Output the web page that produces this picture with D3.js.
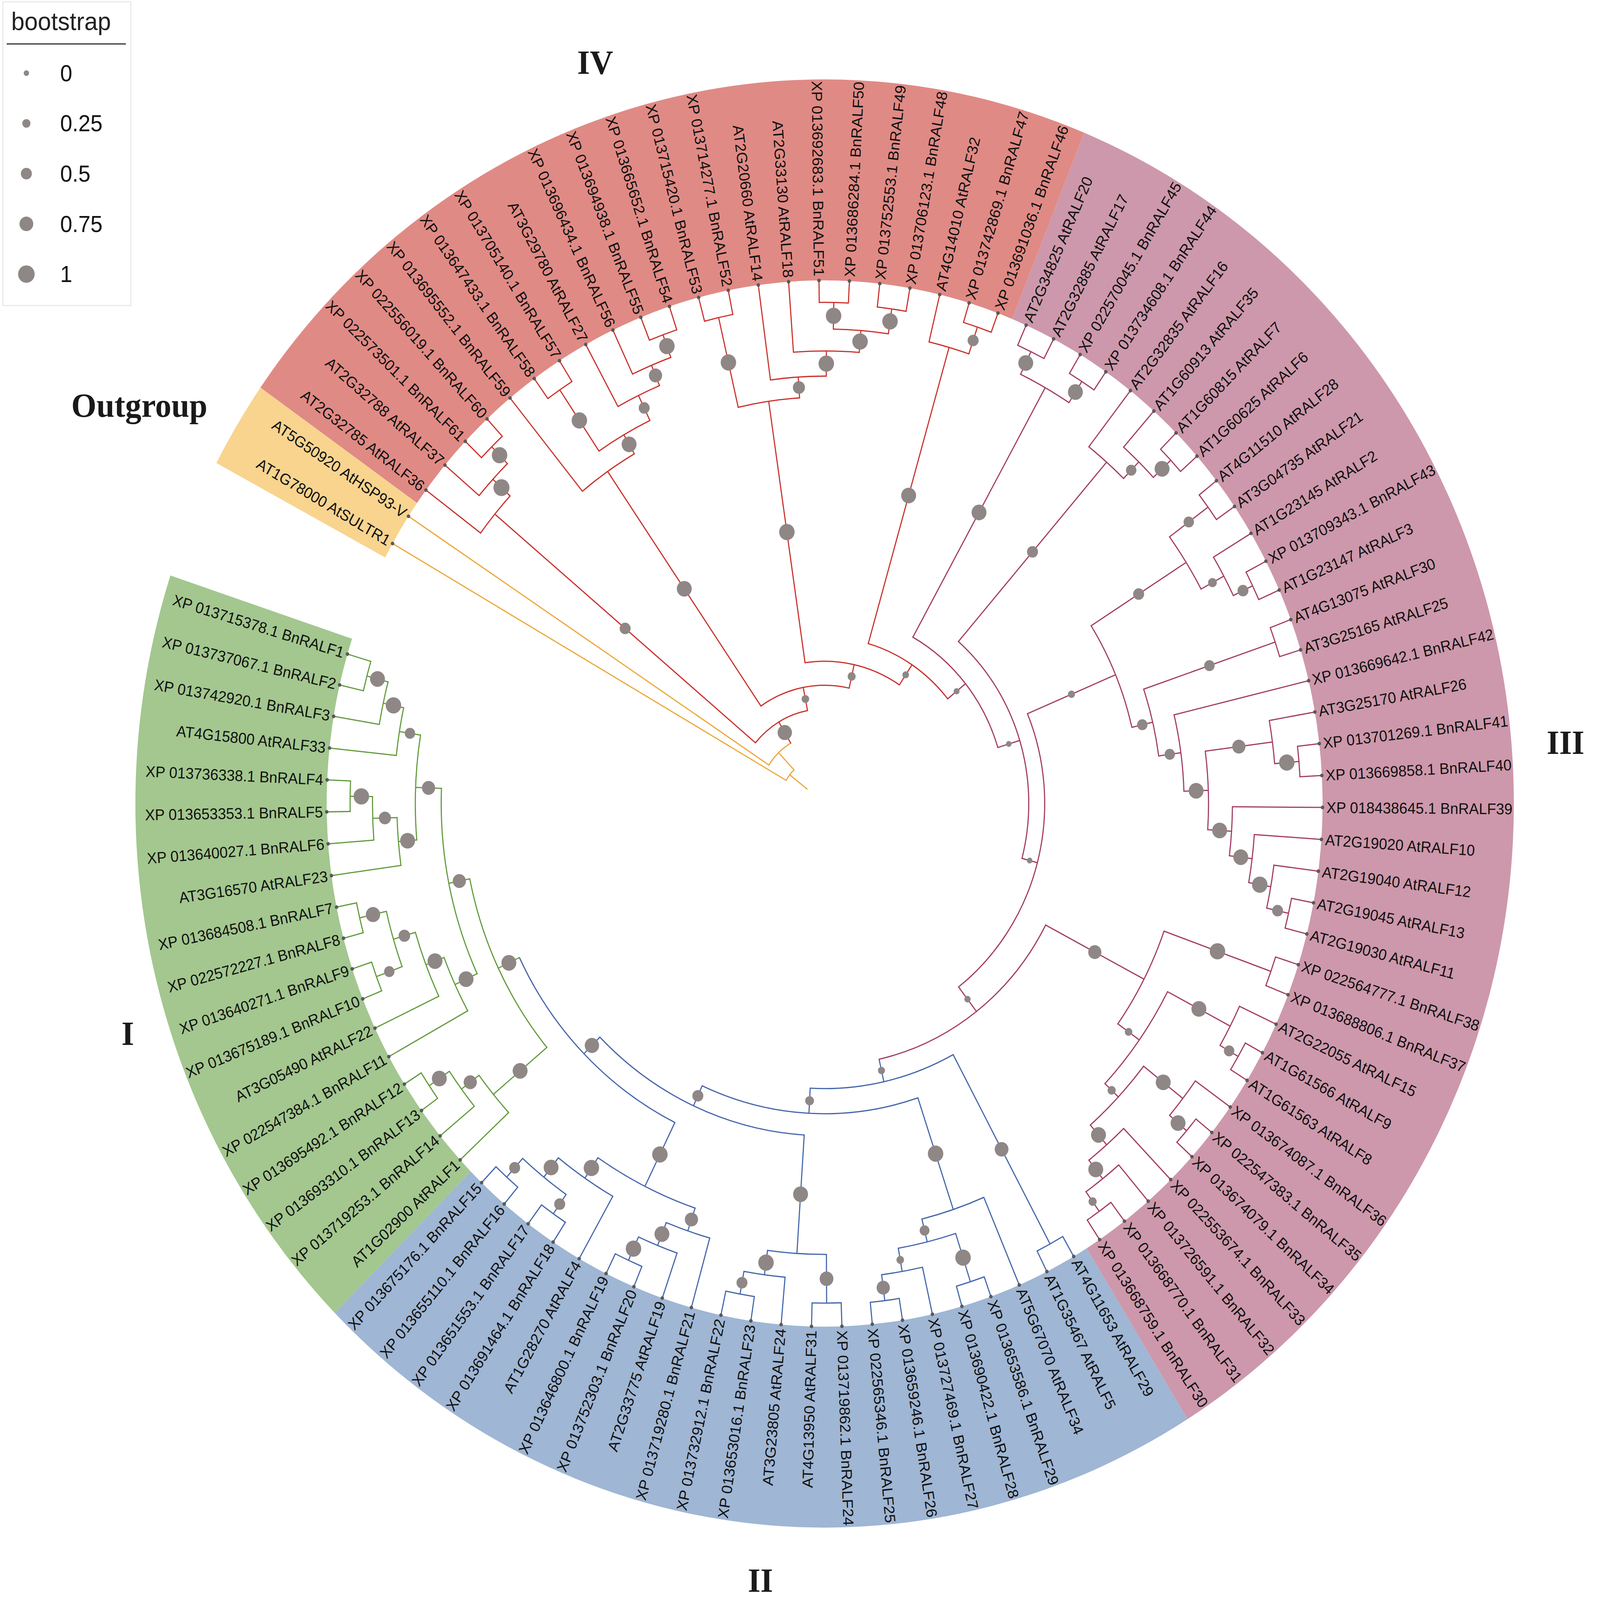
<!DOCTYPE html>
<html>
<head>
<meta charset="utf-8">
<title>RALF family tree</title>
<script src="https://d3js.org/d3.v7.min.js"></script>
<style>
  html, body { margin: 0; padding: 0; background: #fff; overflow: hidden; }
  #chart { display: block; width: 100vw; height: 100vh; }
  text { font-family: "Liberation Sans", Arial, sans-serif; }
</style>
</head>
<body>
<svg id="chart"></svg>
<script>

// leaves in tree order (counter-clockwise, starting at BnRALF1)
var leafLabels = [
  "XP 013715378.1 BnRALF1", "XP 013737067.1 BnRALF2", "XP 013742920.1 BnRALF3", "AT4G15800 AtRALF33",
  "XP 013736338.1 BnRALF4", "XP 013653353.1 BnRALF5", "XP 013640027.1 BnRALF6", "AT3G16570 AtRALF23",
  "XP 013684508.1 BnRALF7", "XP 022572227.1 BnRALF8", "XP 013640271.1 BnRALF9", "XP 013675189.1 BnRALF10",
  "AT3G05490 AtRALF22", "XP 022547384.1 BnRALF11", "XP 013695492.1 BnRALF12", "XP 013693310.1 BnRALF13",
  "XP 013719253.1 BnRALF14", "AT1G02900 AtRALF1",
  "XP 013675176.1 BnRALF15", "XP 013655110.1 BnRALF16", "XP 013651553.1 BnRALF17", "XP 013691464.1 BnRALF18",
  "AT1G28270 AtRALF4", "XP 013646800.1 BnRALF19", "XP 013752303.1 BnRALF20", "AT2G33775 AtRALF19",
  "XP 013719280.1 BnRALF21", "XP 013732912.1 BnRALF22", "XP 013653016.1 BnRALF23", "AT3G23805 AtRALF24",
  "AT4G13950 AtRALF31", "XP 013719862.1 BnRALF24", "XP 022565346.1 BnRALF25", "XP 013659246.1 BnRALF26",
  "XP 013727469.1 BnRALF27", "XP 013690422.1 BnRALF28", "XP 013653586.1 BnRALF29", "AT5G67070 AtRALF34",
  "AT1G35467 AtRALF5", "AT4G11653 AtRALF29",
  "XP 013668759.1 BnRALF30", "XP 013668770.1 BnRALF31", "XP 013726591.1 BnRALF32", "XP 022553674.1 BnRALF33",
  "XP 013674079.1 BnRALF34", "XP 022547383.1 BnRALF35", "XP 013674087.1 BnRALF36", "AT1G61563 AtRALF8",
  "AT1G61566 AtRALF9", "AT2G22055 AtRALF15", "XP 013688806.1 BnRALF37", "XP 022564777.1 BnRALF38",
  "AT2G19030 AtRALF11", "AT2G19045 AtRALF13", "AT2G19040 AtRALF12", "AT2G19020 AtRALF10",
  "XP 018438645.1 BnRALF39", "XP 013669858.1 BnRALF40", "XP 013701269.1 BnRALF41", "AT3G25170 AtRALF26",
  "XP 013669642.1 BnRALF42", "AT3G25165 AtRALF25", "AT4G13075 AtRALF30", "AT1G23147 AtRALF3",
  "XP 013709343.1 BnRALF43", "AT1G23145 AtRALF2", "AT3G04735 AtRALF21", "AT4G11510 AtRALF28",
  "AT1G60625 AtRALF6", "AT1G60815 AtRALF7", "AT1G60913 AtRALF35", "AT2G32835 AtRALF16",
  "XP 013734608.1 BnRALF44", "XP 022570045.1 BnRALF45", "AT2G32885 AtRALF17", "AT2G34825 AtRALF20",
  "XP 013691036.1 BnRALF46", "XP 013742869.1 BnRALF47", "AT4G14010 AtRALF32", "XP 013706123.1 BnRALF48",
  "XP 013752553.1 BnRALF49", "XP 013686284.1 BnRALF50", "XP 013692683.1 BnRALF51", "AT2G33130 AtRALF18",
  "AT2G20660 AtRALF14", "XP 013714277.1 BnRALF52", "XP 013715420.1 BnRALF53", "XP 013665652.1 BnRALF54",
  "XP 013694938.1 BnRALF55", "XP 013696434.1 BnRALF56", "AT3G29780 AtRALF27", "XP 013705140.1 BnRALF57",
  "XP 013647433.1 BnRALF58", "XP 013695552.1 BnRALF59", "XP 022556019.1 BnRALF60", "XP 022573501.1 BnRALF61",
  "AT2G32788 AtRALF37", "AT2G32785 AtRALF36",
  "AT5G50920 AtHSP93-V", "AT1G78000 AtSULTR1"
];

var groupNames = ["I", "II", "III", "IV", "Outgroup"];
var groupSizes = [18, 22, 36, 22, 2];
var branchColors = ["#629a3c", "#4566aa", "#a23b62", "#c9302b", "#eba83a"];
var bandColors = ["#a3c78f", "#9fb6d4", "#cd98ab", "#e08a85", "#f8d48f"];

// subtrees: (children)bootstrap:depth, depth = node radius in % of the tip radius
var cladeI = "((((((BnRALF1,BnRALF2)0.85:95.1,BnRALF3)0.9:90.7,AtRALF33)0.45:86.5,(((BnRALF4,BnRALF5)0.9:95.3,BnRALF6)0.6:90.8,AtRALF23)0.85:85.9)0.7:82.2,((((BnRALF7,BnRALF8)0.8:95.9,(BnRALF9,BnRALF10)0.45:95.9)0.55:90.4,AtRALF22)0.85:85.8,BnRALF11)0.85:81.9)0.7:77.0,(((BnRALF12,BnRALF13)0.85:96.0,BnRALF14)0.7:91.1,AtRALF1)0.85:86.7)0.85:72.7";
var cladeIIA = "((((BnRALF15,BnRALF16)0.5:95.8,(BnRALF17,BnRALF18)0.5:95.5)0.85:91.0,AtRALF4)0.9:86.3,(((BnRALF19,BnRALF20)0.9:95.8,AtRALF19)0.85:90.9,BnRALF21)0.7:86.2)0.9:81.6";
var cladeIIB = "(((BnRALF22,BnRALF23)0.5:95.3,AtRALF24)0.9:90.9,(AtRALF31,BnRALF24)0.75:95.5)0.85:86.2";
var cladeIIC = "((((BnRALF25,BnRALF26)0.7:95.8,BnRALF27)0.2:90.8,(BnRALF28,BnRALF29)0.9:96.0)0.4:86.3,AtRALF34)0.9:81.8";
var cladeIID = "(AtRALF5,AtRALF29)0.75:95.6";
var cladeIIID = "((((((BnRALF30,BnRALF31)0.25:95.5,BnRALF32)0.85:90.9,BnRALF33)0.85:86.4,((BnRALF34,BnRALF35)0.85:95.9,BnRALF36)0.85:91.4)0.25:81.4,((AtRALF8,AtRALF9)0.45:96.1,AtRALF15)0.85:91.9)0.2:77.7,(BnRALF37,BnRALF38)0.9:95.2)0.7:72.4";
var cladeIIIC = "((((((((AtRALF11,AtRALF13)0.5:95.5,AtRALF12)0.9:91.0,AtRALF10)0.85:86.5,BnRALF39)0.85:81.9,((BnRALF40,BnRALF41)0.9:95.6,AtRALF26)0.7:90.7)0.85:77.1,BnRALF42)0.45:72.2,(AtRALF25,AtRALF30)0.45:95.6)0.45:67.7,(((AtRALF3,BnRALF43)0.5:95.5,AtRALF2)0.3:91.2,(AtRALF21,AtRALF28)0.45:95.6)0.5:86.0)0.15:63.4";
var cladeIIIB = "(((AtRALF6,AtRALF7)0.85:95.6,AtRALF35)0.45:90.8,AtRALF16)0.5:86.4";
var cladeIIItop = "((BnRALF44,BnRALF45)0.85:95.8,(AtRALF17,AtRALF20)0.85:95.8)0.85:91.0";
var cladeIVB = "((BnRALF46,BnRALF47)0.5:96.1,AtRALF32)0.85:90.7";
var cladeIVA = "(((((BnRALF48,BnRALF49)0.9:95.5,(BnRALF50,BnRALF51)0.9:95.8)0.9:90.7,AtRALF18)0.9:86.5,AtRALF14)0.6:81.7,(BnRALF52,BnRALF53)0.9:95.3)0.9:77.7";
var cladeIVD = "(((((BnRALF54,BnRALF55)0.9:95.3,BnRALF56)0.7:90.7,AtRALF27)0.5:86.5,(BnRALF57,BnRALF58)0.9:95.3)0.85:81.2,BnRALF59)0.85:77.0";
var cladeIVC = "(((BnRALF60,BnRALF61)0.9:95.5,AtRALF37)0.95:91.0,AtRALF36)0.5:86.3";
var backbone = "(((((((((((((({I},{IIA})0.8:68.0,{IIB})0.5:63.5,{IIC})0.3:59.3,{IID})0.15:54.5,{IIID})0.08:50.1,{IIIC})0.02:44.2,{IIIB})0.02:41.0,{IIItop})0.05:36.4,{IVB})0.12:31.8,{IVA})0.24:27.2,{IVD})0.2:22.6,{IVC})0.8:18.1,AtHSP93-V):13.4,AtSULTR1):8.9";
var rootEdgeStart = 4.5;

var bootstrapLegend = [0, 0.25, 0.5, 0.75, 1];

// ---- layout (drawn in a 4550 x 4331 box, stretched to the window)
var width = 4550, height = 4331;
var cx = 2345, cy = 2175;
var tipR = 1416, bandOuter = 1960;
var startAngle = 196.6, step = 3.503;
// small hand shifts (degrees) of the group names, as placed in the figure
var labelNudge = [-4.4, -1.8, 0.2, -1.6, 0];

var svg = d3.select("#chart")
  .attr("viewBox", "0 0 " + width + " " + height)
  .attr("preserveAspectRatio", "none");

var angle = d3.scaleLinear()
  .domain([0, leafLabels.length - 1])
  .range([startAngle, startAngle - step * (leafLabels.length - 1)]);
var radius = d3.scaleLinear().domain([0, 100]).range([0, tipR]);
var size = d3.scaleLinear().domain([0, 1]).range([7.6, 23.6]);

var clades = { I: cladeI, IIA: cladeIIA, IIB: cladeIIB, IIC: cladeIIC, IID: cladeIID,
  IIID: cladeIIID, IIIC: cladeIIIC, IIIB: cladeIIIB, IIItop: cladeIIItop,
  IVB: cladeIVB, IVA: cladeIVA, IVD: cladeIVD, IVC: cladeIVC };
var newick = backbone.replace(/\{(\w+)\}/g, function(m, k) { return clades[k]; });

function parseNewick(s) {
  var i = 0;
  function node() {
    var n = {};
    if (s[i] === "(") {
      i++;
      n.children = [node()];
      while (s[i] === ",") { i++; n.children.push(node()); }
      i++; // ')'
    }
    var tok = "";
    while (i < s.length && ",():".indexOf(s[i]) < 0) tok += s[i++];
    if (n.children) n.support = tok === "" ? null : +tok;
    else n.name = tok;
    if (s[i] === ":") {
      i++;
      var num = "";
      while (i < s.length && ",()".indexOf(s[i]) < 0) num += s[i++];
      n.depth = +num;
    }
    return n;
  }
  return node();
}

var leafIndex = {};
leafLabels.forEach(function(l, i) { leafIndex[l.split(" ").pop()] = i; });
var groupEnds = Array.from(d3.cumsum(groupSizes));
function groupOf(i) { return d3.bisectRight(groupEnds, i); }

var root = d3.hierarchy(parseNewick(newick));
root.eachAfter(function(n) {
  if (!n.children) {
    n.idx = leafIndex[n.data.name];
    n.theta = angle(n.idx);
    n.r = radius(100);
    n.grp = groupOf(n.idx);
  } else {
    n.theta = d3.mean(n.children, function(c) { return c.theta; });
    n.r = radius(n.data.depth);
    n.grp = d3.max(n.children, function(c) { return c.grp; });
  }
});

function pt(r, th) {
  var a = th * Math.PI / 180;
  return [cx + r * Math.cos(a), cy + r * Math.sin(a)];
}

// ---- clade bands
var bandArc = d3.arc().innerRadius(tipR).outerRadius(bandOuter);
var bandG = svg.append("g").attr("transform", "translate(" + cx + "," + cy + ")");
var first = 0;
groupSizes.forEach(function(n, g) {
  var hi = angle(first) + step / 2, lo = angle(first + n - 1) - step / 2;
  bandG.append("path")
    .attr("d", bandArc({ startAngle: (lo + 90) * Math.PI / 180, endAngle: (hi + 90) * Math.PI / 180 }))
    .attr("fill", bandColors[g]);
  first += n;
});

// ---- branches
var branchG = svg.append("g").attr("fill", "none").attr("stroke-width", 3.2).attr("stroke-linecap", "round");
root.descendants().forEach(function(n) {
  var pr = n.parent ? n.parent.r : radius(rootEdgeStart);
  var p = d3.path();
  var a = pt(pr, n.theta), b = pt(n.r, n.theta);
  p.moveTo(a[0], a[1]);
  p.lineTo(b[0], b[1]);
  if (n.children) {
    var t0 = d3.min(n.children, function(c) { return c.theta; });
    var t1 = d3.max(n.children, function(c) { return c.theta; });
    var s0 = pt(n.r, t0);
    p.moveTo(s0[0], s0[1]);
    p.arc(cx, cy, n.r, t0 * Math.PI / 180, t1 * Math.PI / 180, false);
  }
  branchG.append("path").attr("d", p.toString()).attr("stroke", branchColors[n.grp]);
});

// ---- bootstrap points (branch midpoints)
svg.append("g").selectAll("circle")
  .data(root.descendants().filter(function(n) { return n.children && n.data.support != null; }))
  .join("circle")
  .attr("cx", function(n) { return pt((n.parent.r + n.r) / 2, n.theta)[0]; })
  .attr("cy", function(n) { return pt((n.parent.r + n.r) / 2, n.theta)[1]; })
  .attr("r", function(n) { return size(n.data.support); })
  .attr("fill", "#8f8785");

// ---- tips and labels
var leaves = root.leaves();
svg.append("g").selectAll("circle")
  .data(leaves)
  .join("circle")
  .attr("cx", function(n) { return pt(n.r, n.theta)[0]; })
  .attr("cy", function(n) { return pt(n.r, n.theta)[1]; })
  .attr("r", 5)
  .attr("fill", "#5a5a5a");

svg.append("g").selectAll("text")
  .data(leaves)
  .join("text")
  .attr("transform", function(n) {
    var right = Math.cos(n.theta * Math.PI / 180) >= 0;
    return "translate(" + cx + "," + cy + ") rotate(" + n.theta + ") translate(" + (tipR + 11) + ",0)" + (right ? "" : " rotate(180)");
  })
  .attr("text-anchor", function(n) { return Math.cos(n.theta * Math.PI / 180) >= 0 ? "start" : "end"; })
  .attr("dominant-baseline", "central")
  .attr("font-size", 42)
  .attr("fill", "#111")
  .text(function(n) { return leafLabels[n.idx]; });

// ---- group names
first = 0;
groupSizes.forEach(function(n, g) {
  var mid = (angle(first) + angle(first + n - 1)) / 2 + labelNudge[g];
  first += n;
  var c = Math.cos(mid * Math.PI / 180);
  var side = Math.abs(c) > 0.5;
  var p = pt(side ? 2060 : 2110, mid);
  svg.append("text")
    .attr("x", p[0]).attr("y", p[1])
    .attr("text-anchor", side ? (c < 0 ? "end" : "start") : "middle")
    .attr("dominant-baseline", "central")
    .style("font-family", "'Liberation Serif', 'Times New Roman', serif")
    .attr("font-weight", "bold")
    .attr("font-size", 92)
    .attr("fill", "#1a1a1a")
    .text(groupNames[g]);
});

// ---- legend
var leg = svg.append("g");
leg.append("rect").attr("x", 8).attr("y", 5).attr("width", 364).attr("height", 822)
  .attr("fill", "#fff").attr("stroke", "#e8e8e8").attr("stroke-width", 3);
leg.append("text").attr("x", 32).attr("y", 81).attr("font-size", 68).attr("fill", "#222").text("bootstrap");
leg.append("line").attr("x1", 19).attr("x2", 358).attr("y1", 119).attr("y2", 119)
  .attr("stroke", "#333").attr("stroke-width", 3);
var item = leg.selectAll("g.item").data(bootstrapLegend).join("g")
  .attr("class", "item")
  .attr("transform", function(d, i) { return "translate(0," + (198 + 136 * i) + ")"; });
item.append("circle").attr("cx", 75).attr("r", function(d) { return size(d); }).attr("fill", "#8f8785");
item.append("text").attr("x", 171).attr("dominant-baseline", "central")
  .attr("font-size", 62).attr("fill", "#111").text(function(d) { return String(d); });

</script>
</body>
</html>
